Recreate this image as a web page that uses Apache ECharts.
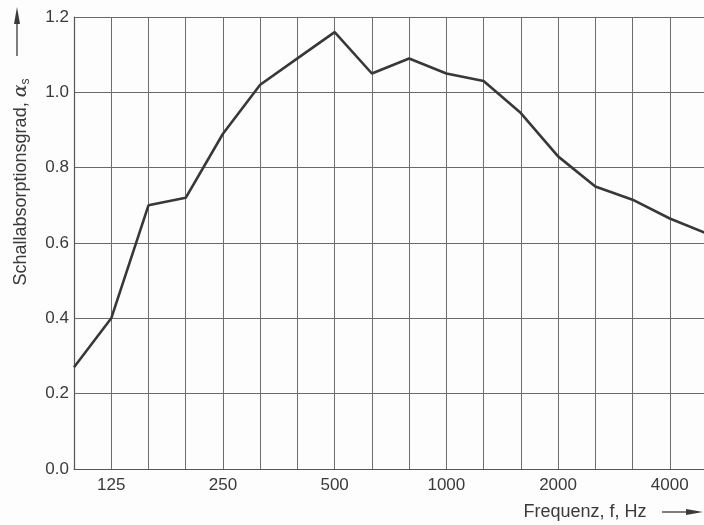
<!DOCTYPE html>
<html>
<head>
<meta charset="utf-8">
<script src="https://cdn.jsdelivr.net/npm/echarts@6/dist/echarts.min.js"></script>
<style>
html,body{margin:0;padding:0;background:#fdfdfd;}
#chart{width:704px;height:525px;}
</style>
</head>
<body>
<div id="chart"></div>
<script>
// Third-octave band centre frequencies (Hz)
const frequencies = ['100','125','160','200','250','315','400','500','630','800','1000','1250','1600','2000','2500','3150','4000','5000'];
// Sound absorption coefficient values
const absorption = [0.27,0.40,0.70,0.72,0.89,1.02,1.09,1.16,1.05,1.09,1.05,1.03,0.945,0.83,0.75,0.715,0.665,0.625];
// Labelled x ticks
const xTickLabels = ['125','250','500','1000','2000','4000'];
// y axis range
const yMin = 0, yMax = 1.2, yStep = 0.2;

const FONT = 'Liberation Sans, Arial, sans-serif';
const chart = echarts.init(document.getElementById('chart'));
chart.setOption({
  backgroundColor: '#fdfdfd',
  animation: false,
  grid: {left: 74, width: 633, top: 17, bottom: 56, containLabel: false, outerBoundsMode: 'none'},
  xAxis: {
    type: 'category',
    data: frequencies,
    boundaryGap: false,
    axisLine: {lineStyle: {color: '#555', width: 1.2}},
    axisTick: {show: false},
    axisLabel: {
      interval: 0,
      margin: 8,
      fontFamily: FONT,
      fontSize: 17,
      color: '#3a3a3a',
      formatter: v => xTickLabels.includes(v) ? v : ''
    },
    splitLine: {show: true, interval: 0, lineStyle: {color: '#6e6e6e', width: 1}}
  },
  yAxis: {
    type: 'value',
    min: yMin, max: yMax, interval: yStep,
    axisLine: {show: true, lineStyle: {color: '#555', width: 1.2}},
    axisTick: {show: false},
    axisLabel: {
      margin: 5,
      fontFamily: FONT,
      fontSize: 17,
      color: '#3a3a3a',
      formatter: v => v.toFixed(1)
    },
    splitLine: {show: true, lineStyle: {color: '#666b69', width: 1.2}}
  },
  series: [{
    type: 'line',
    data: absorption,
    symbol: 'none',
    lineStyle: {color: '#383838', width: 2.6},
    z: 5
  }],
  graphic: [
    {
      type: 'text',
      x: 21, y: 182,
      rotation: Math.PI / 2,
      style: {
        text: '{t|Schallabsorptionsgrad, }{a|α}{s|s}',
        textAlign: 'center',
        textVerticalAlign: 'middle',
        fill: '#3a3a3a',
        rich: {
          t: {fontFamily: FONT, fontSize: 18, fill: '#3a3a3a'},
          a: {fontFamily: 'DejaVu Serif, serif', fontStyle: 'italic', fontSize: 19, fill: '#3a3a3a'},
          s: {fontFamily: FONT, fontSize: 12, fill: '#3a3a3a', verticalAlign: 'bottom', padding: [9,0,0,0]}
        }
      }
    },
    {type: 'line', shape: {x1: 17, y1: 56, x2: 17, y2: 20}, style: {stroke: '#3a3a3a', lineWidth: 1.3}},
    {type: 'polygon', shape: {points: [[17,7],[14,24],[20,24]]}, style: {fill: '#3a3a3a'}},
    {
      type: 'text',
      x: 585, y: 512,
      style: {
        text: 'Frequenz, f, Hz',
        textAlign: 'center',
        textVerticalAlign: 'middle',
        fontFamily: FONT,
        fontSize: 18,
        fill: '#3a3a3a'
      }
    },
    {type: 'line', shape: {x1: 662, y1: 512, x2: 690, y2: 512}, style: {stroke: '#3a3a3a', lineWidth: 1.3}},
    {type: 'polygon', shape: {points: [[703,512],[686,509],[686,515]]}, style: {fill: '#3a3a3a'}}
  ]
});
</script>
</body>
</html>
